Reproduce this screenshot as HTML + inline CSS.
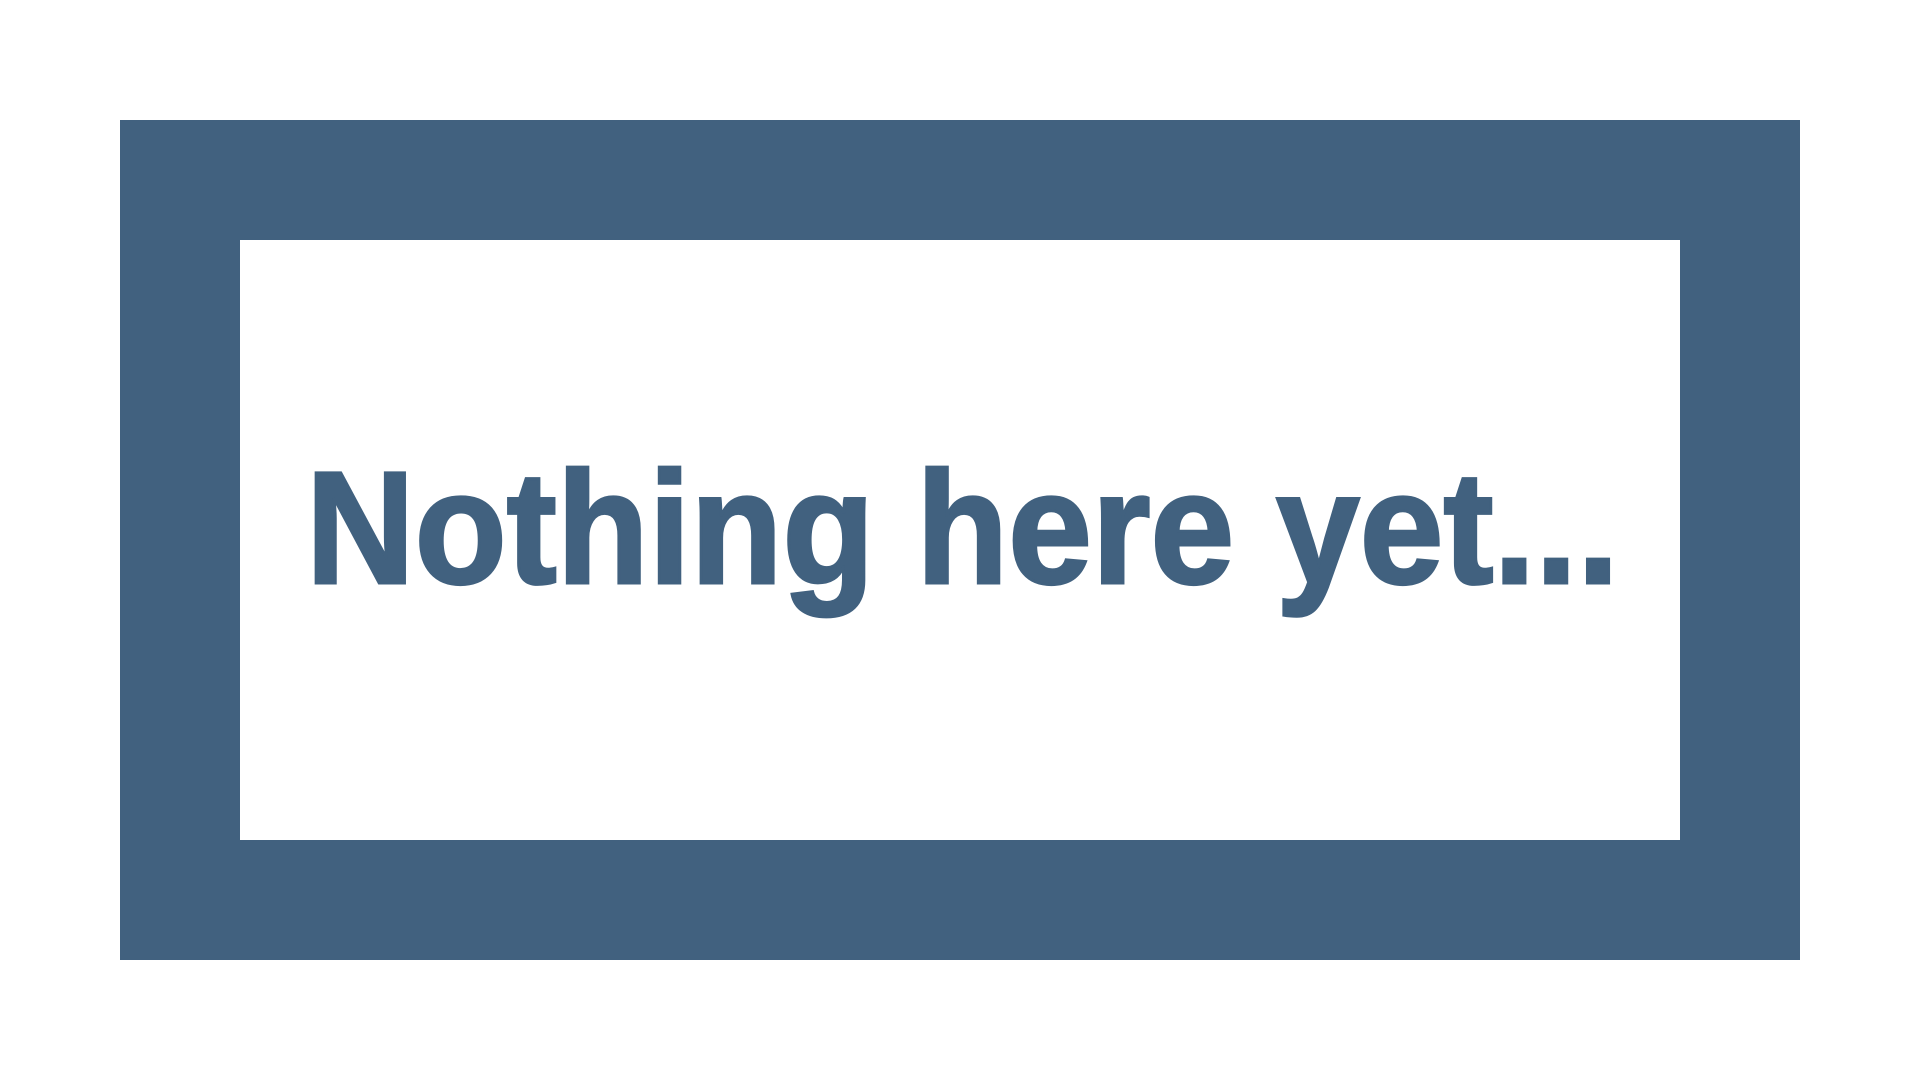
<!DOCTYPE html>
<html>
<head>
<meta charset="utf-8">
<style>
  html, body { margin: 0; padding: 0; width: 1920px; height: 1080px; background: #ffffff; overflow: hidden; }
  .frame {
    position: absolute; left: 120px; top: 120px;
    width: 1440px; height: 600px;
    border: 120px solid #41617f;
    background: #ffffff;
  }
</style>
</head>
<body>
  <div class="frame"></div>
  <svg width="1920" height="1080" style="position:absolute;left:0;top:0">
    <text x="306" y="583" textLength="1313" lengthAdjust="spacingAndGlyphs" font-family="Liberation Sans, Arial, sans-serif" font-weight="700" font-size="160" fill="#41617f" stroke="#41617f" stroke-width="3">Nothing here yet...</text>
  </svg>
</body>
</html>
